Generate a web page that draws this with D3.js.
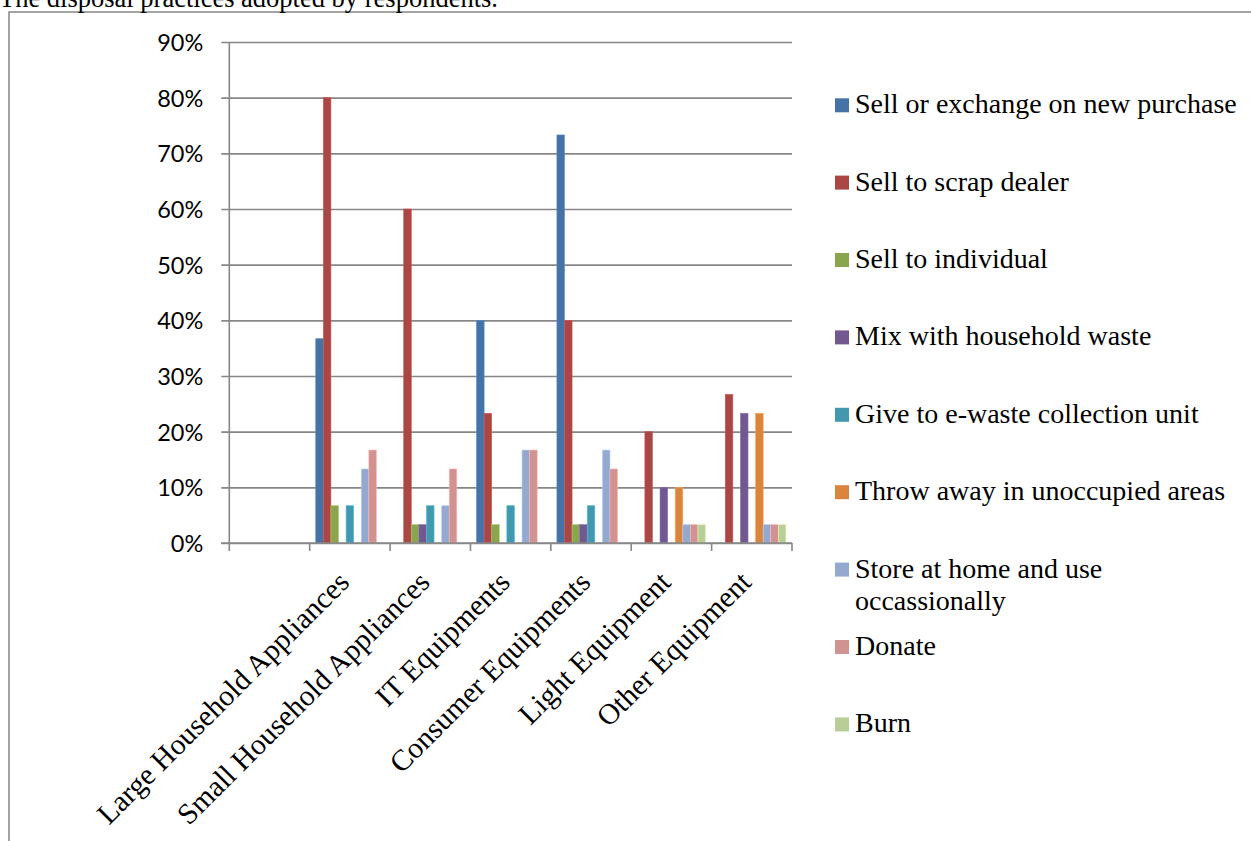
<!DOCTYPE html>
<html>
<head>
<meta charset="utf-8">
<script src="https://cdn.jsdelivr.net/npm/d3@7"></script>
<style>
  html, body { margin: 0; padding: 0; background: #fff; }
  svg { display: block; }
</style>
</head>
<body>
<svg id="chart" width="1251" height="841"></svg>
<script>
// ---- DATA ----
const title = "The disposal practices adopted by respondents.";
const categories = ["", "Large Household Appliances", "Small Household Appliances", "IT Equipments", "Consumer Equipments", "Light Equipment", "Other Equipment"];
const seriesNames = [
  "Sell or exchange on new purchase",
  "Sell to scrap dealer",
  "Sell to individual",
  "Mix with household waste",
  "Give to e-waste collection unit",
  "Throw away in unoccupied areas",
  "Store at home and use occassionally",
  "Donate",
  "Burn"
];
const sellExchange = [null, 36.7, 0, 40, 73.3, 0, 0];
const sellScrap    = [null, 80, 60, 23.3, 40, 20, 26.7];
const sellIndiv    = [null, 6.7, 3.3, 3.3, 3.3, 0, 0];
const mixWaste     = [null, 0, 3.3, 0, 3.3, 10, 23.3];
const eWasteUnit   = [null, 6.7, 6.7, 6.7, 6.7, 0, 0];
const throwAway    = [null, 0, 0, 0, 0, 10, 23.3];
const storeHome    = [null, 13.3, 6.7, 16.7, 16.7, 3.3, 3.3];
const donate       = [null, 16.7, 13.3, 16.7, 13.3, 3.3, 3.3];
const burn         = [null, 0, 0, 0, 0, 3.3, 3.3];
const seriesValues = [sellExchange, sellScrap, sellIndiv, mixWaste, eWasteUnit, throwAway, storeHome, donate, burn];
const colors = ["#4572A7", "#AA4643", "#89A54E", "#71588F", "#4198AF", "#DB843D", "#93A9CF", "#D19392", "#B9CD96"];
const yTicks = [0, 10, 20, 30, 40, 50, 60, 70, 80, 90];

// ---- LAYOUT ----
const svg = d3.select("#chart");
const gridColor = "#878787";
const serif = "'Liberation Serif', 'Times New Roman', serif";
const sans = "Lato, 'Liberation Sans', sans-serif";

// outer frame (cropped)
svg.append("rect")
  .attr("x", 9).attr("y", 12).attr("width", 1300).attr("height", 900)
  .attr("fill", "none").attr("stroke", gridColor).attr("stroke-width", 1.5);

// title
svg.append("text")
  .attr("x", -1).attr("y", 7)
  .attr("font-family", serif).attr("font-size", 26.5)
  .attr("fill", "#000")
  .text(title);

const x0 = d3.scaleBand().domain(categories.map((d, i) => i)).range([229.3, 792]).paddingInner(0).paddingOuter(0);
const x1 = d3.scaleBand().domain(seriesNames).range([0, x0.bandwidth()]).paddingInner(0).paddingOuter(0.8);
const y = d3.scaleLinear().domain([0, 90]).range([543, 42]);

// gridlines
const yAxis = d3.axisLeft(y).tickValues(yTicks).tickFormat(d => d + "%")
  .tickSize(-(792 - 229.3)).tickPadding(26);
const gy = svg.append("g").attr("transform", "translate(229.3,0)").call(yAxis);
gy.select(".domain").remove();
gy.selectAll(".tick line").attr("x1", -8).attr("stroke", gridColor).attr("stroke-width", 1.6);
gy.selectAll(".tick text")
  .attr("font-family", sans).attr("font-size", 23.5).attr("fill", "#000")
  .attr("dy", "0.36em");

// bars
const bars = svg.append("g");
seriesNames.forEach((name, si) => {
  bars.selectAll(null)
    .data(seriesValues[si].map((v, ci) => ({ v, ci })).filter(d => d.v != null && d.v > 0))
    .enter().append("rect")
    .attr("x", d => x0(d.ci) + x1(name))
    .attr("y", d => y(d.v))
    .attr("width", x1.bandwidth())
    .attr("height", d => y(0) - y(d.v))
    .attr("fill", colors[si])
    .attr("stroke", d3.color(colors[si]).brighter(0.6))
    .attr("stroke-width", 0.6);
});

// axes lines
svg.append("line").attr("x1", 229.3).attr("x2", 229.3).attr("y1", 42).attr("y2", 543)
  .attr("stroke", gridColor).attr("stroke-width", 1.6);
const xAxis = d3.axisBottom(x0).tickSize(8).tickFormat("");
const gx = svg.append("g").attr("transform", "translate(0,543)").call(xAxis);
gx.select(".domain").attr("stroke", gridColor).attr("stroke-width", 1.6).attr("d", "M221,0H792");
gx.selectAll(".tick").remove();
const boundaries = categories.map((d, i) => x0(i)).concat([792]);
gx.selectAll(".bt").data(boundaries).enter().append("line")
  .attr("x1", d => d).attr("x2", d => d).attr("y1", 0).attr("y2", 8)
  .attr("stroke", gridColor).attr("stroke-width", 1.6);

// category labels
svg.append("g").selectAll("text")
  .data(categories.map((c, i) => ({ c, i })).filter(d => d.c !== ""))
  .enter().append("text")
  .attr("transform", d => `translate(${x0(d.i) + x0.bandwidth() / 2 + 1},584) rotate(-45)`)
  .attr("text-anchor", "end")
  .attr("font-family", serif).attr("font-size", 29.5).attr("fill", "#000")
  .text(d => d.c);

// legend
const legendY = [105.3, 182.6, 260, 337.4, 414.8, 492.2, 569.6, 647, 724.4];
const lg = svg.append("g");
seriesNames.forEach((name, i) => {
  const cy = legendY[i];
  lg.append("rect").attr("x", 835).attr("y", cy - 7).attr("width", 14).attr("height", 14).attr("fill", colors[i]);
  const t = lg.append("text").attr("x", 855).attr("y", cy + 8)
    .attr("font-family", serif).attr("font-size", 28).attr("fill", "#000");
  if (name === "Store at home and use occassionally") {
    t.append("tspan").attr("x", 855).text("Store at home and use");
    t.append("tspan").attr("x", 855).attr("dy", 32.5).text("occassionally");
  } else {
    t.text(name);
  }
});
</script>
</body>
</html>
